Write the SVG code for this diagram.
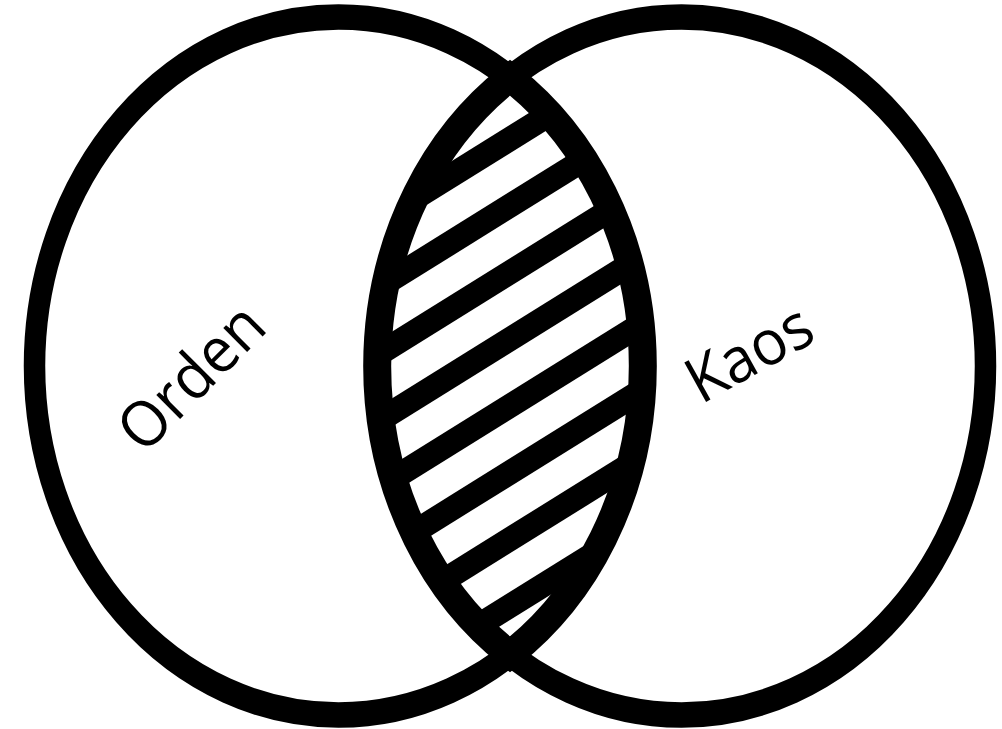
<svg xmlns="http://www.w3.org/2000/svg" width="1002" height="729" viewBox="0 0 1002 729">
  <style>
    .ring { fill: none; stroke: #000; stroke-width: 21.5; }
    .lens { fill: none; stroke: #000; stroke-width: 28; }
    .hatch { stroke: #000; stroke-width: 24; }
    .label { font-family: "Open Sans", "Liberation Sans", sans-serif; font-size: 63px; fill: #000; text-anchor: middle; }
  </style>
  <defs>
    <clipPath id="lensClip">
      <path d="M510,77.6 A304,349 0 0 1 510,654.4 A304,349 0 0 1 510,77.6 Z"/>
    </clipPath>
  </defs>
  <rect width="1002" height="729" fill="#fff"/>
  <g id="orden">
    <ellipse class="ring" cx="0" cy="0" rx="304" ry="293.3" transform="translate(338.5,366) scale(1,1.19)"/>
    <text class="label" transform="translate(191,377) rotate(-45) scale(0.95,1)" x="0" y="22">Orden</text>
  </g>
  <g id="kaos">
    <ellipse class="ring" cx="0" cy="0" rx="304" ry="293.3" transform="translate(681.5,366) scale(1,1.19)"/>
    <text class="label" transform="translate(749,353) rotate(-29) scale(0.95,1)" x="0" y="22">Kaos</text>
  </g>
  <g id="intersection">
    <g clip-path="url(#lensClip)">
      <g class="hatch">
        <line x1="330" y1="184.3" x2="690" y2="-39.7"/>
        <line x1="330" y1="251" x2="690" y2="27"/>
        <line x1="330" y1="317.7" x2="690" y2="93.7"/>
        <line x1="330" y1="384.4" x2="690" y2="160.4"/>
        <line x1="330" y1="451.1" x2="690" y2="227.1"/>
        <line x1="330" y1="517.8" x2="690" y2="293.8"/>
        <line x1="330" y1="584.5" x2="690" y2="360.5"/>
        <line x1="330" y1="651.2" x2="690" y2="427.2"/>
        <line x1="330" y1="717.9" x2="690" y2="493.9"/>
        <line x1="330" y1="784.6" x2="690" y2="560.6"/>
      </g>
    </g>
    <path class="lens" d="M510,77.6 A304,349 0 0 1 510,654.4 A304,349 0 0 1 510,77.6 Z"/>
  </g>
</svg>
